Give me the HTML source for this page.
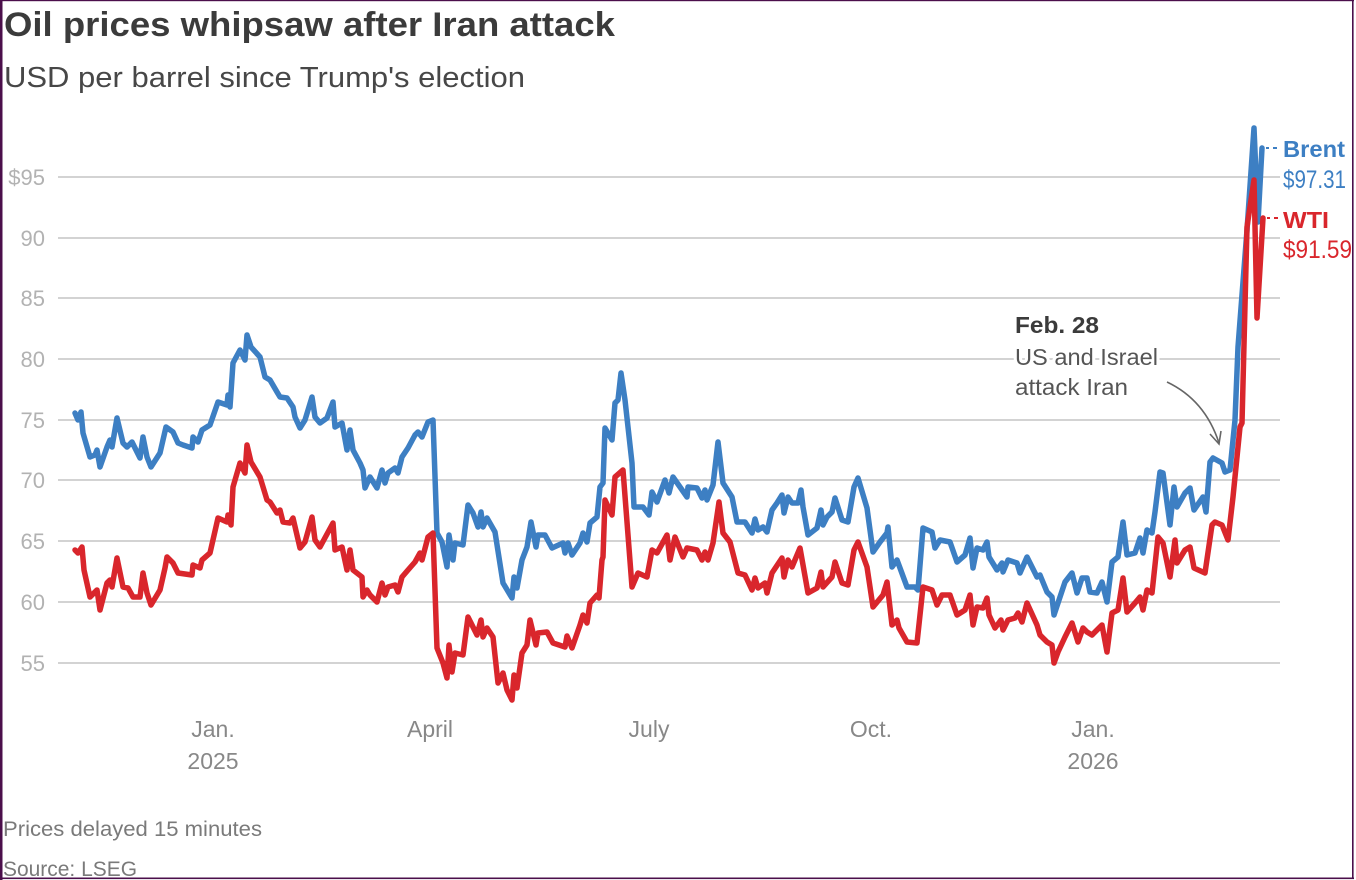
<!DOCTYPE html>
<html>
<head>
<meta charset="utf-8">
<style>
  html, body { margin:0; padding:0; background:#fff; }
  body { width:1356px; height:880px; overflow:hidden; }
  svg { display:block; }
  text { font-family: "Liberation Sans", "DejaVu Sans", sans-serif; }
</style>
</head>
<body>
<svg width="1356" height="880" viewBox="0 0 1356 880" xmlns="http://www.w3.org/2000/svg">
  <rect x="0" y="0" width="1356" height="880" fill="#ffffff"/>

  <!-- Title & subtitle -->
  <text x="4" y="36" font-size="34" font-weight="bold" fill="#3b3b3b" textLength="611" lengthAdjust="spacingAndGlyphs">Oil prices whipsaw after Iran attack</text>
  <text x="4" y="87" font-size="29" fill="#474747" textLength="521" lengthAdjust="spacingAndGlyphs">USD per barrel since Trump's election</text>

  <!-- Gridlines -->
  <g stroke="#d3d3d3" stroke-width="2">
    <line x1="58" y1="177" x2="1280" y2="177"/>
    <line x1="58" y1="238" x2="1280" y2="238"/>
    <line x1="58" y1="298" x2="1280" y2="298"/>
    <line x1="58" y1="359" x2="1280" y2="359"/>
    <line x1="58" y1="420" x2="1280" y2="420"/>
    <line x1="58" y1="480" x2="1280" y2="480"/>
    <line x1="58" y1="541" x2="1280" y2="541"/>
    <line x1="58" y1="602" x2="1280" y2="602"/>
    <line x1="58" y1="663" x2="1280" y2="663"/>
  </g>

  <!-- Y labels -->
  <g font-size="22" fill="#b2b2b2" text-anchor="end">
    <text x="45" y="185">$95</text>
    <text x="45" y="246">90</text>
    <text x="45" y="306">85</text>
    <text x="45" y="367">80</text>
    <text x="45" y="428">75</text>
    <text x="45" y="488">70</text>
    <text x="45" y="549">65</text>
    <text x="45" y="610">60</text>
    <text x="45" y="671">55</text>
  </g>

  <!-- X labels -->
  <g font-size="23" fill="#888888" text-anchor="middle">
    <text x="213" y="737">Jan.</text>
    <text x="213" y="769">2025</text>
    <text x="430" y="737">April</text>
    <text x="649" y="737">July</text>
    <text x="871" y="737">Oct.</text>
    <text x="1093" y="737">Jan.</text>
    <text x="1093" y="769">2026</text>
  </g>

  <!-- Brent -->
  <polyline fill="none" stroke="#3d7fc3" stroke-width="5.5" stroke-linejoin="round" stroke-linecap="round"
    points="75,413 78,420 81,412 83,433 90,457 95,455 97,450 100,467 107,447 110,440 112,447 117,418 123,443 127,447 132,442 140,458 143,437 147,457 151,467 160,453 166,427 173,432 178,443 183,445 192,448 193,437 198,442 202,430 210,425 218,402 227,405 228,395 230,407 233,363 240,350 245,360 247,335 251,347 260,357 265,377 270,380 277,392 280,397 287,398 293,407 295,417 300,428 305,420 312,397 315,417 320,423 327,418 333,402 335,427 342,423 347,450 350,430 353,450 360,463 363,470 365,488 370,477 377,488 382,470 385,483 388,473 395,468 398,473 402,457 408,448 415,435 418,432 422,437 428,422 433,420 437,533 442,542 447,567 449,535 453,560 455,543 463,545 468,505 473,513 478,527 481,512 483,527 487,518 495,532 503,583 512,598 514,577 517,588 522,560 527,547 531,522 536,547 538,535 545,535 552,548 563,543 565,553 568,543 572,555 580,543 583,533 587,542 590,523 597,517 600,487 603,483 605,428 612,440 615,403 618,400 621,373 625,400 632,463 634,507 643,507 649,515 652,492 657,502 665,480 669,493 673,477 687,497 688,487 697,488 702,498 705,490 707,500 713,485 718,442 723,483 732,497 737,522 745,522 752,533 755,519 758,530 763,527 767,532 772,510 777,503 782,495 784,513 788,497 792,503 798,503 801,490 803,507 808,535 817,528 821,510 823,525 827,517 832,512 835,498 842,520 848,522 854,487 858,478 867,508 873,552 880,542 887,533 888,527 892,567 897,560 900,568 907,587 915,587 918,590 923,528 932,532 935,548 940,540 950,542 957,562 965,555 970,538 973,568 977,548 983,550 987,542 989,557 997,570 1002,563 1003,572 1008,560 1017,563 1020,573 1027,557 1037,577 1040,575 1047,592 1052,597 1054,615 1058,603 1065,582 1072,573 1077,593 1082,578 1087,578 1090,592 1097,593 1102,582 1107,602 1112,562 1118,557 1123,522 1127,555 1135,553 1140,538 1143,553 1147,530 1152,533 1155,512 1160,472 1163,473 1170,525 1174,487 1177,507 1185,493 1190,488 1194,510 1203,497 1206,512 1210,462 1213,458 1222,463 1225,472 1230,470 1235,420 1238,347 1247,230 1254,128 1258,222 1262,148"/>

  <!-- WTI -->
  <polyline fill="none" stroke="#d9262c" stroke-width="5.5" stroke-linejoin="round" stroke-linecap="round"
    points="75,550 78,553 82,547 84,570 90,597 97,590 100,610 107,583 110,580 112,587 117,558 123,587 128,588 133,597 140,597 143,573 147,593 151,605 160,590 165,568 167,557 173,563 178,573 192,575 193,565 200,568 202,560 210,553 218,518 227,522 228,515 231,525 233,487 240,463 245,473 247,445 251,462 260,477 267,500 270,502 277,513 280,510 283,522 290,523 293,518 300,548 305,542 312,517 315,540 320,547 333,523 335,550 342,547 347,570 350,550 353,570 362,577 363,597 367,590 370,595 377,602 382,583 385,595 388,587 395,585 398,592 402,577 408,570 415,562 420,553 422,560 428,537 433,533 437,648 443,663 447,678 449,645 452,672 455,653 463,655 468,617 477,635 481,620 483,637 487,628 493,637 498,683 503,673 507,690 512,700 514,675 517,688 522,653 527,645 530,620 536,645 538,633 547,632 553,643 565,647 567,636 572,648 580,625 583,615 587,623 590,603 597,595 599,598 602,560 603,557 605,500 612,515 615,477 623,470 632,587 638,573 647,577 652,550 657,553 667,535 670,560 675,537 683,557 687,548 697,550 702,560 705,552 708,560 713,543 719,502 723,533 730,542 738,573 745,575 752,590 755,578 758,588 765,583 767,593 772,573 782,558 784,577 788,560 792,567 800,548 808,593 817,588 821,572 823,587 832,577 835,562 842,583 848,585 854,550 858,542 867,567 873,607 883,595 887,582 892,625 897,620 899,628 907,642 917,643 923,587 932,590 937,605 942,595 950,595 957,615 965,610 970,595 973,625 977,607 983,608 987,598 989,615 995,628 1001,620 1003,630 1008,620 1015,618 1018,613 1022,622 1027,603 1037,625 1040,635 1047,642 1052,645 1054,663 1058,652 1065,637 1072,623 1078,642 1083,628 1087,632 1092,635 1102,625 1107,652 1112,613 1118,610 1123,578 1127,612 1135,603 1140,597 1143,610 1147,590 1152,593 1158,537 1163,543 1170,577 1175,540 1177,563 1185,550 1190,547 1194,568 1205,573 1212,525 1215,522 1222,525 1228,540 1233,497 1240,427 1242,423 1247,227 1254,180 1257,318 1263,218"/>

  <!-- Leaders -->
  <g stroke-width="2">
    <line x1="1266" y1="148" x2="1269" y2="148" stroke="#3d7fc3"/>
    <line x1="1273" y1="148" x2="1277" y2="148" stroke="#3d7fc3"/>
    <line x1="1267" y1="218" x2="1270" y2="218" stroke="#d9262c"/>
    <line x1="1274" y1="218" x2="1278" y2="218" stroke="#d9262c"/>
  </g>

  <!-- Series labels -->
  <text x="1283" y="157" font-size="23" font-weight="bold" fill="#3d7fc3" textLength="62" lengthAdjust="spacingAndGlyphs">Brent</text>
  <text x="1283" y="188" font-size="25" fill="#3d7fc3" textLength="63" lengthAdjust="spacingAndGlyphs">$97.31</text>
  <text x="1283" y="228" font-size="23" font-weight="bold" fill="#d9262c" textLength="46" lengthAdjust="spacingAndGlyphs">WTI</text>
  <text x="1283" y="258" font-size="25" fill="#d9262c" textLength="69" lengthAdjust="spacingAndGlyphs">$91.59</text>

  <!-- Annotation -->
  <g paint-order="stroke" stroke="#ffffff" stroke-width="6" stroke-linejoin="round">
    <text x="1015" y="333" font-size="23" font-weight="bold" fill="#3b3b3b" textLength="84" lengthAdjust="spacingAndGlyphs">Feb. 28</text>
    <text x="1015" y="365" font-size="23" fill="#555555" textLength="143" lengthAdjust="spacingAndGlyphs">US and Israel</text>
    <text x="1015" y="395" font-size="23" fill="#555555" textLength="113" lengthAdjust="spacingAndGlyphs">attack Iran</text>
  </g>
  <path d="M1167,382 Q1205,400 1219,443" fill="none" stroke="#666" stroke-width="1.6"/>
  <path d="M1210,434 L1219,444 L1221,431" fill="none" stroke="#666" stroke-width="1.6"/>

  <!-- Footer -->
  <text x="3" y="836" font-size="21" fill="#7a7a7a" textLength="259" lengthAdjust="spacingAndGlyphs">Prices delayed 15 minutes</text>
  <text x="3" y="876" font-size="21" fill="#7a7a7a" textLength="134" lengthAdjust="spacingAndGlyphs">Source: LSEG</text>

  <!-- Border -->
  <rect x="0" y="0" width="2.5" height="880" fill="#4b0f4b"/>
  <rect x="0" y="0" width="1354" height="1.2" fill="#4b0f4b"/>
  <rect x="1352" y="0" width="1.6" height="879" fill="#4b0f4b"/>
  <rect x="0" y="877.5" width="1354" height="1.6" fill="#4b0f4b"/>
</svg>
</body>
</html>
